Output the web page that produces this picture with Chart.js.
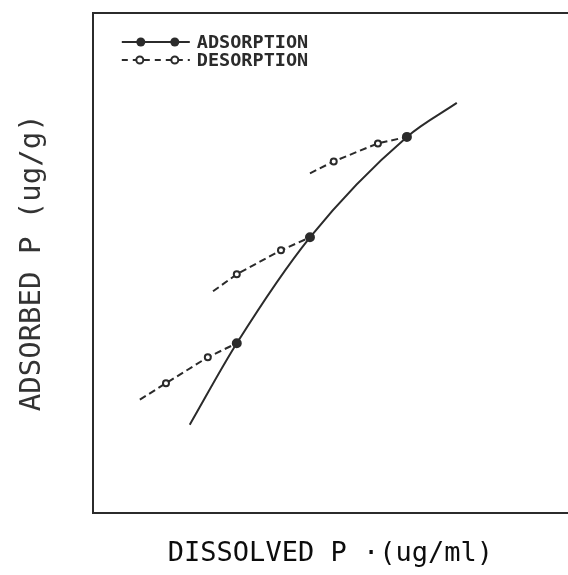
<!DOCTYPE html>
<html>
<head>
<meta charset="utf-8">
<script src="https://cdn.jsdelivr.net/npm/chart.js@4/dist/chart.umd.min.js"></script>
<style>
  html, body { margin: 0; padding: 0; background: #ffffff; }
  #wrap { width: 568px; height: 575px; }
</style>
</head>
<body>
<div id="wrap"><canvas id="c" width="568" height="575"></canvas></div>
<script>
// Adsorption isotherm (solid line, filled markers)
const adsorptionX = [2.04, 3.03, 4.57, 6.61, 7.66];
const adsorptionY = [1.76, 3.39, 5.51, 7.52, 8.20];
const adsorptionMarked = [false, true, true, true, false];

// Desorption branches (dashed line, open markers), one per starting point
const desorption1X = [0.99, 1.54, 2.42, 3.03];
const desorption1Y = [2.26, 2.59, 3.11, 3.39];
const desorption2X = [2.53, 3.03, 3.96, 4.57];
const desorption2Y = [4.43, 4.77, 5.25, 5.51];
const desorption3X = [4.57, 5.07, 6.00, 6.61];
const desorption3Y = [6.79, 7.03, 7.39, 7.52];
const desorptionMarked = [false, true, true, false];

const xTitle = 'DISSOLVED P \u00B7(ug/ml)';
const yTitle = 'ADSORBED P (ug/g)';
const legendLabels = ['ADSORPTION', 'DESORPTION'];

const ink = '#2b2b2b';

function pts(xs, ys) { return xs.map((x, i) => ({ x: x, y: ys[i] })); }

// desorption branches joined with gaps
const desorptionData = [
  ...pts(desorption1X, desorption1Y), { x: null, y: null },
  ...pts(desorption2X, desorption2Y), { x: null, y: null },
  ...pts(desorption3X, desorption3Y)
];
const desRadius = [];
[desorption1X, desorption2X, desorption3X].forEach((arr, g) => {
  arr.forEach((_, i) => desRadius.push(desorptionMarked[i] ? 3 : 0));
  if (g < 2) desRadius.push(0);
});

const legendPlugin = {
  id: 'insideLegend',
  afterDraw(chart) {
    const ctx = chart.ctx;
    const a = chart.chartArea;
    const x0 = a.left + 29, x1 = a.left + 97;
    const y1 = a.top + 29, y2 = a.top + 47;
    ctx.save();
    ctx.strokeStyle = ink;
    ctx.fillStyle = ink;
    ctx.lineWidth = 2;
    // adsorption sample
    ctx.beginPath(); ctx.moveTo(x0, y1); ctx.lineTo(x1, y1); ctx.stroke();
    [a.left + 48, a.left + 82].forEach(px => {
      ctx.beginPath(); ctx.arc(px, y1, 4.5, 0, Math.PI * 2); ctx.fill();
    });
    // desorption sample
    ctx.setLineDash([6, 5]);
    ctx.beginPath(); ctx.moveTo(x0, y2); ctx.lineTo(x1, y2); ctx.stroke();
    ctx.setLineDash([]);
    [a.left + 47, a.left + 82].forEach(px => {
      ctx.fillStyle = '#ffffff';
      ctx.beginPath(); ctx.arc(px, y2, 3.5, 0, Math.PI * 2); ctx.fill(); ctx.stroke();
    });
    ctx.fillStyle = ink;
    ctx.font = 'bold 18.5px "DejaVu Sans Mono"';
    ctx.textBaseline = 'middle';
    ctx.fillText(legendLabels[0], a.left + 104, y1 + 1);
    ctx.fillText(legendLabels[1], a.left + 104, y2 + 1);
    ctx.restore();
  }
};

new Chart(document.getElementById('c'), {
  type: 'line',
  data: {
    datasets: [
      {
        label: legendLabels[1],
        data: desorptionData,
        borderColor: ink,
        borderWidth: 2,
        borderDash: [7, 4],
        pointRadius: desRadius,
        pointBackgroundColor: '#ffffff',
        pointBorderColor: ink,
        pointBorderWidth: 2,
        spanGaps: false,
        fill: false,
        order: 2
      },
      {
        label: legendLabels[0],
        data: pts(adsorptionX, adsorptionY),
        borderColor: ink,
        borderWidth: 2,
        cubicInterpolationMode: 'monotone',
        pointRadius: adsorptionMarked.map(m => m ? 4 : 0),
        pointBackgroundColor: ink,
        pointBorderColor: ink,
        fill: false,
        order: 1
      }
    ]
  },
  options: {
    responsive: false,
    animation: false,
    layout: { padding: { top: 13, right: 0, bottom: 0, left: 0 } },
    plugins: { legend: { display: false }, tooltip: { enabled: false } },
    scales: {
      x: {
        type: 'linear', position: 'bottom', min: 0, max: 10,
        grid: { display: false, drawTicks: false },
        ticks: { display: false },
        border: { display: true, color: ink, width: 2 },
        title: {
          display: true, text: xTitle, color: '#0d0d0d',
          font: { family: 'DejaVu Sans Mono', size: 27 },
          padding: { top: 25, bottom: 5 }
        }
      },
      x2: {
        type: 'linear', position: 'top', min: 0, max: 10,
        grid: { display: false, drawTicks: false },
        ticks: { display: false },
        border: { display: true, color: ink, width: 2 }
      },
      y: {
        type: 'linear', min: 0, max: 10,
        grid: { display: false, drawTicks: false },
        ticks: { display: false },
        border: { display: true, color: ink, width: 2 },
        title: {
          display: true, text: yTitle, color: '#333',
          font: { family: 'DejaVu Sans Mono', size: 29 },
          padding: { top: 15, bottom: 43 }
        }
      }
    }
  },
  plugins: [legendPlugin]
});
</script>
</body>
</html>
